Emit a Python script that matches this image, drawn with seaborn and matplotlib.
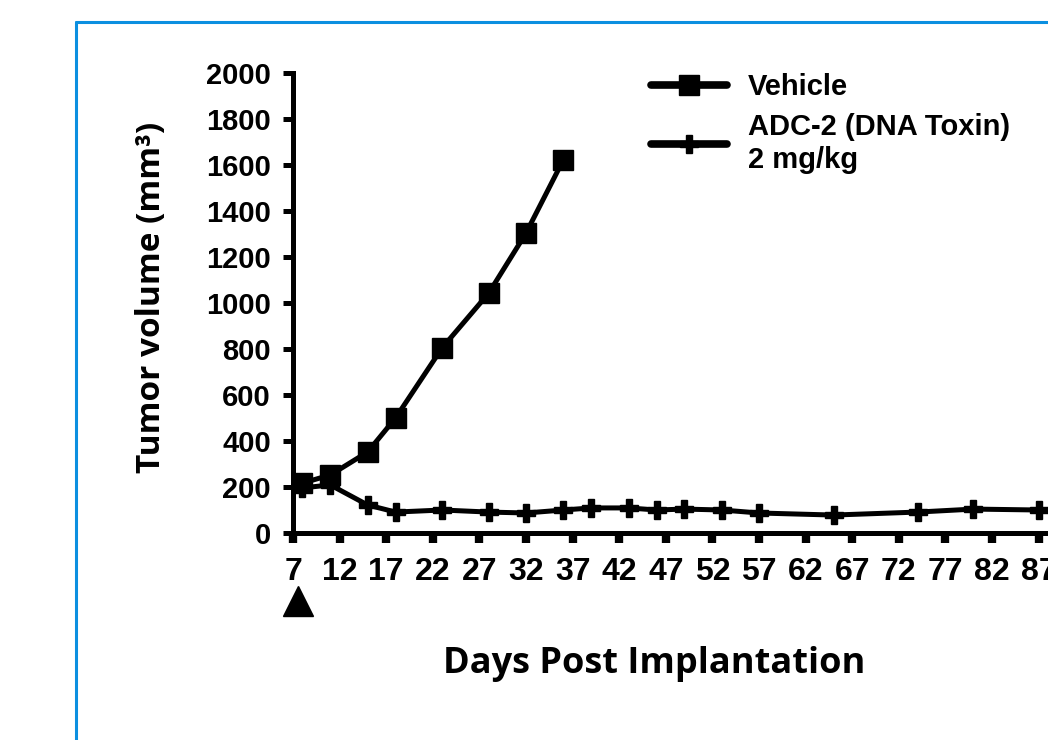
import pandas as pd
import seaborn as sns
import matplotlib.pyplot as plt
from matplotlib.lines import Line2D
import matplotlib.transforms as mtransforms

# ---------------------------------------------------------------------------
# Data
# ---------------------------------------------------------------------------
vehicle_days = [8, 11, 15, 18, 23, 28, 32, 36]
vehicle_volume = [217, 252, 352, 500, 805, 1043, 1304, 1622]

adc_days = [8, 11, 15, 18, 23, 28, 32, 36, 39, 43, 46, 49, 53, 57, 65, 74, 80, 87]
adc_volume = [196, 209, 122, 91, 100, 91, 87, 100, 109, 109, 100, 104, 100, 87, 78, 91, 104, 100]

x_ticks = [7, 12, 17, 22, 27, 32, 37, 42, 47, 52, 57, 62, 67, 72, 77, 82, 87]
y_ticks = [0, 200, 400, 600, 800, 1000, 1200, 1400, 1600, 1800, 2000]
dose_day = 7.5

vehicle_label = "Vehicle"
adc_label = "ADC-2 (DNA Toxin)\n2 mg/kg"

df = pd.concat([
    pd.DataFrame({"day": vehicle_days, "volume": vehicle_volume, "group": vehicle_label}),
    pd.DataFrame({"day": adc_days, "volume": adc_volume, "group": adc_label}),
])

# ---------------------------------------------------------------------------
# Style
# ---------------------------------------------------------------------------
sns.set_style("ticks")
plt.rcParams["font.family"] = ["Liberation Sans", "DejaVu Sans"]
plt.rcParams["text.color"] = "black"
plt.rcParams["axes.labelcolor"] = "black"

fig = plt.figure(figsize=(10.48, 7.40), dpi=100)
ax = fig.add_axes([293 / 1048, 1 - 533 / 740, 1 - 293 / 1048, (533 - 73) / 740])

sns.lineplot(
    data=df, x="day", y="volume", hue="group", style="group",
    palette={vehicle_label: "black", adc_label: "black"},
    markers={vehicle_label: "s", adc_label: "P"},
    dashes=False, linewidth=3.6, markersize=14, markeredgewidth=1,
    markeredgecolor="black", legend=False, ax=ax, clip_on=False,
)
ax.lines[1].set_markersize(13)

ax.set_xlim(7, 88)
ax.set_ylim(0, 2000)
ax.set_xticks(x_ticks)
ax.set_xticklabels([str(t) for t in x_ticks])
ax.set_yticks(y_ticks)
ax.set_yticklabels([str(t) for t in y_ticks])

for side in ["top", "right"]:
    ax.spines[side].set_visible(False)
for side in ["left", "bottom"]:
    ax.spines[side].set_linewidth(3.6)
    ax.spines[side].set_color("black")

ax.tick_params(axis="x", direction="out", length=7, width=6, pad=10,
               labelsize=23, colors="black")
ax.tick_params(axis="y", direction="out", length=7, width=3.6, pad=9,
               labelsize=21, colors="black")
for lab in ax.get_xticklabels() + ax.get_yticklabels():
    lab.set_fontweight("bold")

ax.set_xlabel("Days Post Implantation", fontsize=26, fontfamily=["Open Sans", "DejaVu Sans"],
              fontweight="bold", color="black")
ax.set_ylabel("Tumor volume (mm³)", fontsize=24, fontfamily=["Open Sans", "DejaVu Sans"],
              fontweight="bold", color="black")
ax.xaxis.set_label_coords(0.479, -0.245)
ax.yaxis.set_label_coords(-0.165, 0.513)

# dosing marker below the x axis
trans = mtransforms.blended_transform_factory(ax.transData, ax.transAxes)
ax.plot([dose_day], [-0.148], marker="^", markersize=22, color="black",
        transform=trans, clip_on=False, linestyle="none")

# legend
handles = [
    Line2D([], [], color="black", linewidth=5.5, marker="s", markersize=14),
    Line2D([], [], color="black", linewidth=5.5, marker="P", markersize=13),
]
leg = ax.legend(handles, [vehicle_label, adc_label], loc="upper left",
                bbox_to_anchor=((625 - 293) / 755, 1.056), frameon=False,
                handlelength=2.6, handletextpad=0.7, labelspacing=0.4,
                prop={"family": "Liberation Sans", "weight": "bold", "size": 21})

# blue frame around the panel
fig.add_artist(Line2D([76 / 1048, 76 / 1048], [0, 1 - 22 / 740], color="#0b8fe0",
                      linewidth=2.2, transform=fig.transFigure))
fig.add_artist(Line2D([76 / 1048, 1], [1 - 22 / 740, 1 - 22 / 740], color="#0b8fe0",
                      linewidth=2.2, transform=fig.transFigure))

fig.savefig("out.png", dpi=100, facecolor="white")
